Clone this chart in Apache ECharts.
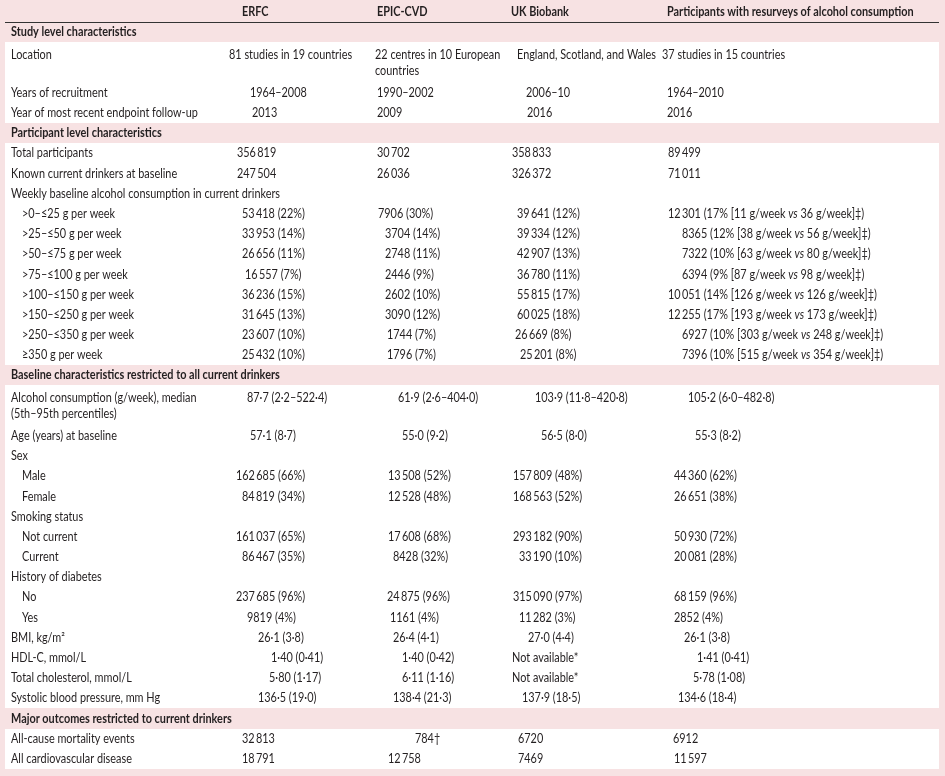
<!DOCTYPE html>
<html>
<head>
<meta charset="utf-8">
<style>
html,body{margin:0;padding:0;background:#f7e2e3;}
#chart{width:945px;height:776px;}
</style>
<script src="https://cdn.jsdelivr.net/npm/echarts@6/dist/echarts.min.js"></script>
</head>
<body>
<div id="chart"></div>
<script>
// ---------- DATA ----------
const columnHeaders = ['ERFC', 'EPIC-CVD', 'UK Biobank', 'Participants with resurveys of alcohol consumption'];

const rowLabels = [
  '',
  'Study level characteristics',
  'Location',
  '',
  'Years of recruitment',
  'Year of most recent endpoint follow-up',
  'Participant level characteristics',
  'Total participants',
  'Known current drinkers at baseline',
  'Weekly baseline alcohol consumption in current drinkers',
  '>0–≤25 g per week',
  '>25–≤50 g per week',
  '>50–≤75 g per week',
  '>75–≤100 g per week',
  '>100–≤150 g per week',
  '>150–≤250 g per week',
  '>250–≤350 g per week',
  '≥350 g per week',
  'Baseline characteristics restricted to all current drinkers',
  'Alcohol consumption (g/week), median',
  '(5th–95th percentiles)',
  'Age (years) at baseline',
  'Sex',
  'Male',
  'Female',
  'Smoking status',
  'Not current',
  'Current',
  'History of diabetes',
  'No',
  'Yes',
  'BMI, kg/m²',
  'HDL-C, mmol/L',
  'Total cholesterol, mmol/L',
  'Systolic blood pressure, mm Hg',
  'Major outcomes restricted to current drinkers',
  'All-cause mortality events',
  'All cardiovascular disease'
];

// row kind: h = column header, s = section, r = row, i = indented row, c = continuation line
const rowKinds = ['h','s','r','c','r','r','s','r','r','r','i','i','i','i','i','i','i','i','s','r','c','r','r','i','i','r','i','i','r','i','i','r','r','r','r','s','r','r'];

const erfc = ['', '', '81 studies in 19 countries', '', '1964–2008', '2013', '', '356 819', '247 504', '',
  '53 418 (22%)', '33 953 (14%)', '26 656 (11%)', '16 557 (7%)', '36 236 (15%)', '31 645 (13%)', '23 607 (10%)', '25 432 (10%)',
  '', '87·7 (2·2–522·4)', '', '57·1 (8·7)', '', '162 685 (66%)', '84 819 (34%)', '', '161 037 (65%)', '86 467 (35%)', '',
  '237 685 (96%)', '9819 (4%)', '26·1 (3·8)', '1·40 (0·41)', '5·80 (1·17)', '136·5 (19·0)', '', '32 813', '18 791'];

const epicCvd = ['', '', '22 centres in 10 European', 'countries', '1990–2002', '2009', '', '30 702', '26 036', '',
  '7906 (30%)', '3704 (14%)', '2748 (11%)', '2446 (9%)', '2602 (10%)', '3090 (12%)', '1744 (7%)', '1796 (7%)',
  '', '61·9 (2·6–404·0)', '', '55·0 (9·2)', '', '13 508 (52%)', '12 528 (48%)', '', '17 608 (68%)', '8428 (32%)', '',
  '24 875 (96%)', '1161 (4%)', '26·4 (4·1)', '1·40 (0·42)', '6·11 (1·16)', '138·4 (21·3)', '', '784†', '12 758'];

const ukBiobank = ['', '', 'England, Scotland, and Wales', '', '2006–10', '2016', '', '358 833', '326 372', '',
  '39 641 (12%)', '39 334 (12%)', '42 907 (13%)', '36 780 (11%)', '55 815 (17%)', '60 025 (18%)', '26 669 (8%)', '25 201 (8%)',
  '', '103·9 (11·8–420·8)', '', '56·5 (8·0)', '', '157 809 (48%)', '168 563 (52%)', '', '293 182 (90%)', '33 190 (10%)', '',
  '315 090 (97%)', '11 282 (3%)', '27·0 (4·4)', 'Not available*', 'Not available*', '137·9 (18·5)', '', '6720', '7469'];

const resurveys = ['', '', '37 studies in 15 countries', '', '1964–2010', '2016', '', '89 499', '71 011', '',
  '12 301 (17% [11 g/week vs 36 g/week]‡)', '8365 (12% [38 g/week vs 56 g/week]‡)', '7322 (10% [63 g/week vs 80 g/week]‡)',
  '6394 (9% [87 g/week vs 98 g/week]‡)', '10 051 (14% [126 g/week vs 126 g/week]‡)', '12 255 (17% [193 g/week vs 173 g/week]‡)',
  '6927 (10% [303 g/week vs 248 g/week]‡)', '7396 (10% [515 g/week vs 354 g/week]‡)',
  '', '105·2 (6·0–482·8)', '', '55·3 (8·2)', '', '44 360 (62%)', '26 651 (38%)', '', '50 930 (72%)', '20 081 (28%)', '',
  '68 159 (96%)', '2852 (4%)', '26·1 (3·8)', '1·41 (0·41)', '5·78 (1·08)', '134·6 (18·4)', '', '6912', '11 597'];

// ---------- LAYOUT (text start positions per column, per row) ----------
const colX1 = [242,0,229,0,250,252,0,237,237,0,242,242,242,245,242,242,242,242,0,247,0,250,0,236,242,0,236,242,0,236,247,258,271,269,258,0,242,242];
const colX2 = [377,0,375,375,377,377,0,377,377,0,378,385,385,385,385,385,387,387,0,398,0,402,0,388,388,0,388,393,0,387,390,393,402,402,393,0,415,388];
const colX3 = [511,0,517,0,526,527,0,512,512,0,517,517,517,517,517,517,515,520,0,535,0,541,0,513,513,0,513,519,0,513,519,528,512,512,522,0,518,518];
const colX4 = [667,0,662,0,667,667,0,668,668,0,668,682,682,682,668,668,682,682,0,688,0,695,0,674,674,0,674,674,0,674,674,684,697,693,678,0,673,674];

const FONT = 'Lato';
const FS = 12.5;
const SX = 0.87;
const TXT = '#231f20';
const PINK = '#f7e2e3';

function fmt(s) {
  return s.replace(/(\d) (\d)/g, '$1\u2009$2');
}
function richify(s) {
  s = fmt(s);
  return s.replace(/ vs /g, ' {it|vs} ');
}

const chart = echarts.init(document.getElementById('chart'), null, {renderer: 'canvas'});

const option = {
  backgroundColor: PINK,
  animation: false,
  grid: {left: 0, right: 0, top: 2, height: 767, containLabel: false},
  xAxis: {type: 'value', min: 0, max: 945, show: false},
  yAxis: {type: 'category', data: rowLabels, inverse: true, show: false},
  series: [{
    type: 'custom',
    silent: true,
    data: rowLabels.map((_, i) => [0, i]),
    encode: {x: 0, y: 1},
    renderItem: function (params, api) {
      const i = api.value(1);
      const kind = rowKinds[i];
      const c = api.coord([0, i]);
      const h = api.size([0, 1])[1];
      const top = Math.round(c[1] - h / 2);
      const bot = Math.round(c[1] + h / 2);
      // tighter spacing for wrapped two-line cells
      let cy = c[1];
      if (kind === 'c') cy -= 1.5;
      else if (rowKinds[i + 1] === 'c') cy += 2.5;
      const xl = api.coord([5, i])[0];
      const xr = api.coord([939, i])[0];
      const children = [];
      if (kind === 'r' || kind === 'i' || kind === 'c') {
        children.push({type: 'rect', shape: {x: xl, y: top, width: xr - xl, height: bot - top},
          style: {fill: '#ffffff'}});
      }
      const baseStyle = {fill: TXT, fontFamily: FONT, fontSize: FS, verticalAlign: 'middle', align: 'left'};
      function txt(x, text, extra) {
        return {type: 'text', x: x, y: cy, scaleX: SX,
          style: Object.assign({}, baseStyle, {text: text}, extra || {})};
      }
      if (kind === 'h') {
        const xs = [colX1, colX2, colX3, colX4];
        columnHeaders.forEach((t, k) => {
          children.push(txt(api.coord([xs[k][i], i])[0], t, {fontWeight: 'bold'}));
        });
        children.push({type: 'line', shape: {x1: xl, y1: bot + 0.5, x2: xr, y2: bot + 0.5},
          style: {stroke: '#333333', lineWidth: 1}});
      } else if (kind === 's') {
        children.push(txt(api.coord([11, i])[0], rowLabels[i], {fontWeight: 'bold'}));
      } else {
        const lx = kind === 'i' ? 22 : 11;
        if (rowLabels[i]) {
          children.push(txt(api.coord([lx, i])[0], rowLabels[i]));
        }
        const vals = [erfc[i], epicCvd[i], ukBiobank[i], resurveys[i]];
        const xs = [colX1[i], colX2[i], colX3[i], colX4[i]];
        vals.forEach((v, k) => {
          if (!v) return;
          children.push(txt(api.coord([xs[k], i])[0], richify(v),
            {rich: {it: {fontStyle: 'italic', fontFamily: FONT, fontSize: FS, fill: TXT}}}));
        });
      }
      return {type: 'group', children: children};
    }
  }]
};
chart.setOption(option);
</script>
</body>
</html>
